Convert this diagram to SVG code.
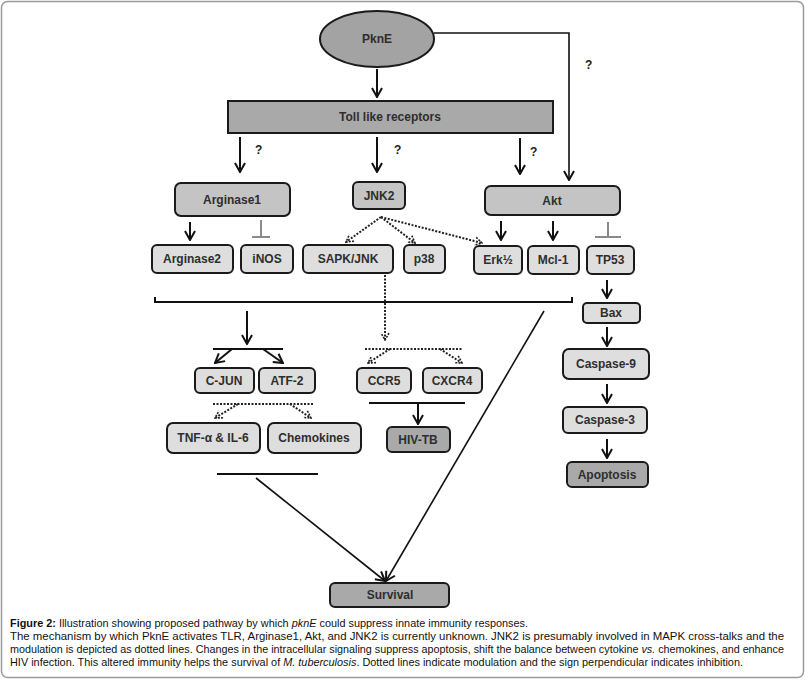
<svg xmlns="http://www.w3.org/2000/svg" width="805" height="680" viewBox="0 0 805 680">
<defs>
<marker id="arr" viewBox="0 0 12 12" refX="11" refY="6" markerWidth="12" markerHeight="12" markerUnits="userSpaceOnUse" orient="auto">
<path d="M2,1 L11,6 L2,11" fill="none" stroke="#111" stroke-width="2"/>
</marker>
<marker id="darr" viewBox="0 0 10 10" refX="9" refY="5" markerWidth="10" markerHeight="10" markerUnits="userSpaceOnUse" orient="auto">
<path d="M2,1 L9,5 L2,9" fill="none" stroke="#222" stroke-width="1.6" stroke-dasharray="2,1.2"/>
</marker>
</defs>
<style>
.box{stroke:#1a1a1a;stroke-width:2;}
.light{fill:#dedede;}
.mid{fill:#c4c4c4;}
.dark{fill:#a9a9a9;}
.lbl{font-family:"Liberation Sans",Arial,sans-serif;font-weight:bold;font-size:12px;fill:#2e2e2e;text-anchor:middle;}
.q{font-family:"Liberation Sans",Arial,sans-serif;font-weight:bold;font-size:12px;fill:#222;}
.ln{stroke:#111;stroke-width:2;fill:none;}
.thin{stroke:#111;stroke-width:1.6;fill:none;}
.dot{stroke:#222;stroke-width:2;fill:none;stroke-dasharray:2,1.5;}
.inh{stroke:#8a8a8a;stroke-width:2;fill:none;}
.cap{font-family:"Liberation Sans",Arial,sans-serif;font-size:10.5px;fill:#111;}
</style>
<rect x="1.5" y="1.5" width="802" height="676" rx="6" fill="#fff" stroke="#9a9a9a" stroke-width="1.5"/>

<g id="connectors">
<line class="ln" x1="377" y1="69" x2="377" y2="97" marker-end="url(#arr)"/>
<polyline class="thin" points="434,33 569,33 569,180" marker-end="url(#arr)"/>
<line class="ln" x1="240" y1="137" x2="240" y2="172" marker-end="url(#arr)"/>
<line class="ln" x1="377" y1="137" x2="377" y2="172" marker-end="url(#arr)"/>
<line class="ln" x1="520" y1="138" x2="520" y2="174" marker-end="url(#arr)"/>
<line class="ln" x1="190" y1="222" x2="190" y2="240" marker-end="url(#arr)"/>
<line class="inh" x1="261" y1="220" x2="261" y2="237"/>
<line class="inh" x1="252" y1="237" x2="270" y2="237"/>
<line class="ln" x1="501" y1="221" x2="501" y2="240" marker-end="url(#arr)"/>
<line class="ln" x1="553" y1="221" x2="553" y2="240" marker-end="url(#arr)"/>
<line class="inh" x1="608" y1="222" x2="608" y2="237"/>
<line class="inh" x1="595" y1="237" x2="621" y2="237"/>
<line class="dot" x1="381" y1="217" x2="346" y2="242" marker-end="url(#darr)"/>
<line class="dot" x1="381" y1="217" x2="415" y2="243" marker-end="url(#darr)"/>
<line class="dot" x1="381" y1="217" x2="482" y2="243" marker-end="url(#darr)"/>
<polyline class="ln" points="155,297 155,302 572,302 572,297"/>
<line class="ln" x1="247" y1="311" x2="247" y2="344" marker-end="url(#arr)"/>
<line class="ln" x1="213" y1="349" x2="283" y2="349"/>
<line class="ln" x1="232" y1="349" x2="215" y2="363" marker-end="url(#arr)"/>
<line class="ln" x1="263" y1="349" x2="283" y2="363" marker-end="url(#arr)"/>
<line class="dot" x1="213" y1="404" x2="313" y2="404"/>
<line class="dot" x1="238" y1="404" x2="215" y2="418" marker-end="url(#darr)"/>
<line class="dot" x1="290" y1="404" x2="311" y2="418" marker-end="url(#darr)"/>
<line class="dot" x1="385" y1="275" x2="385" y2="340" marker-end="url(#darr)"/>
<line class="dot" x1="365" y1="349" x2="462" y2="349"/>
<line class="dot" x1="390" y1="349" x2="368" y2="363" marker-end="url(#darr)"/>
<line class="dot" x1="440" y1="349" x2="462" y2="363" marker-end="url(#darr)"/>
<line class="ln" x1="369" y1="403" x2="465" y2="403"/>
<line class="ln" x1="418" y1="403" x2="418" y2="424" marker-end="url(#arr)"/>
<line class="ln" x1="217" y1="474" x2="318" y2="474"/>
<line class="thin" x1="256" y1="478" x2="385" y2="581" marker-end="url(#arr)"/>
<line class="thin" x1="544" y1="311" x2="386" y2="581" marker-end="url(#arr)"/>
<line class="ln" x1="607" y1="280" x2="607" y2="298" marker-end="url(#arr)"/>
<line class="ln" x1="607" y1="327" x2="607" y2="346" marker-end="url(#arr)"/>
<line class="ln" x1="607" y1="384" x2="607" y2="403" marker-end="url(#arr)"/>
<line class="ln" x1="607" y1="439" x2="607" y2="458" marker-end="url(#arr)"/>
</g>

<g id="pkne"><ellipse class="box" cx="377" cy="39" rx="57" ry="28" fill="#a3a3a3"/><text class="lbl" x="377" y="43">PknE</text></g>
<g id="tlr"><rect class="box dark" x="228" y="101" width="325" height="32"/><text class="lbl" x="390" y="121">Toll like receptors</text></g>
<g id="arginase1"><rect class="box mid" x="175" y="183" width="115" height="33" rx="6"/><text class="lbl" x="232" y="204">Arginase1</text></g>
<g id="jnk2"><rect class="box mid" x="353" y="182" width="52" height="27" rx="5"/><text class="lbl" x="379" y="200">JNK2</text></g>
<g id="akt"><rect class="box mid" x="485" y="186" width="135" height="29" rx="6"/><text class="lbl" x="552" y="205">Akt</text></g>

<g id="arginase2"><rect class="box light" x="152" y="245" width="81" height="28" rx="5"/><text class="lbl" x="192" y="263">Arginase2</text></g>
<g id="inos"><rect class="box light" x="241" y="245" width="52" height="28" rx="5"/><text class="lbl" x="267" y="263">iNOS</text></g>
<g id="sapkjnk"><rect class="box light" x="303" y="245" width="90" height="28" rx="5"/><text class="lbl" x="348" y="263">SAPK/JNK</text></g>
<g id="p38"><rect class="box light" x="404" y="245" width="41" height="28" rx="5"/><text class="lbl" x="424" y="263">p38</text></g>
<g id="erk"><rect class="box light" x="474" y="246" width="48" height="28" rx="5"/><text class="lbl" x="498" y="264">Erk½</text></g>
<g id="mcl1"><rect class="box light" x="528" y="246" width="51" height="28" rx="5"/><text class="lbl" x="553" y="264">Mcl-1</text></g>
<g id="tp53"><rect class="box light" x="587" y="246" width="47" height="28" rx="5"/><text class="lbl" x="610" y="264">TP53</text></g>

<g id="cjun"><rect class="box light" x="195" y="368" width="59" height="25" rx="5"/><text class="lbl" x="224" y="385">C-JUN</text></g>
<g id="atf2"><rect class="box light" x="259" y="368" width="56" height="25" rx="5"/><text class="lbl" x="287" y="385">ATF-2</text></g>
<g id="tnf"><rect class="box light" x="167" y="423" width="93" height="30" rx="6"/><text class="lbl" x="213" y="442">TNF-α &amp; IL-6</text></g>
<g id="chemokines"><rect class="box light" x="268" y="423" width="93" height="30" rx="6"/><text class="lbl" x="314" y="442">Chemokines</text></g>
<g id="ccr5"><rect class="box light" x="357" y="368" width="54" height="25" rx="5"/><text class="lbl" x="384" y="385">CCR5</text></g>
<g id="cxcr4"><rect class="box light" x="423" y="368" width="59" height="25" rx="5"/><text class="lbl" x="452" y="385">CXCR4</text></g>
<g id="hivtb"><rect class="box dark" x="387" y="427" width="63" height="25" rx="5"/><text class="lbl" x="418" y="444">HIV-TB</text></g>

<g id="bax"><rect class="box light" x="583" y="303" width="57" height="20" rx="4"/><text class="lbl" x="611" y="317">Bax</text></g>
<g id="casp9"><rect class="box light" x="563" y="349" width="86" height="30" rx="6"/><text class="lbl" x="606" y="368">Caspase-9</text></g>
<g id="casp3"><rect class="box light" x="563" y="407" width="84" height="26" rx="5"/><text class="lbl" x="605" y="424">Caspase-3</text></g>
<g id="apoptosis"><rect class="box dark" x="567" y="462" width="81" height="25" rx="5"/><text class="lbl" x="607" y="479">Apoptosis</text></g>
<g id="survival"><rect class="box dark" x="330" y="583" width="119" height="24" rx="5"/><text class="lbl" x="390" y="599">Survival</text></g>

<g id="qmarks">
<text class="q" x="585" y="69">?</text>
<text class="q" x="255" y="154">?</text>
<text class="q" x="394" y="154">?</text>
<text class="q" x="530" y="156">?</text>
</g>

<g id="caption">
<text class="cap" x="10" y="627" textLength="518" lengthAdjust="spacingAndGlyphs"><tspan font-weight="bold">Figure 2:</tspan> Illustration showing proposed pathway by which <tspan font-style="italic">pknE</tspan> could suppress innate immunity responses.</text>
<text class="cap" x="10" y="640" textLength="774" lengthAdjust="spacingAndGlyphs">The mechanism by which PknE activates TLR, Arginase1, Akt, and JNK2 is currently unknown. JNK2 is presumably involved in MAPK cross-talks and the</text>
<text class="cap" x="10" y="653" textLength="774" lengthAdjust="spacingAndGlyphs">modulation is depicted as dotted lines. Changes in the intracellular signaling suppress apoptosis, shift the balance between cytokine <tspan font-style="italic">vs.</tspan> chemokines, and enhance</text>
<text class="cap" x="10" y="666" textLength="733" lengthAdjust="spacingAndGlyphs">HIV infection. This altered immunity helps the survival of <tspan font-style="italic">M. tuberculosis</tspan>. Dotted lines indicate modulation and the sign perpendicular indicates inhibition.</text>
</g>
</svg>
